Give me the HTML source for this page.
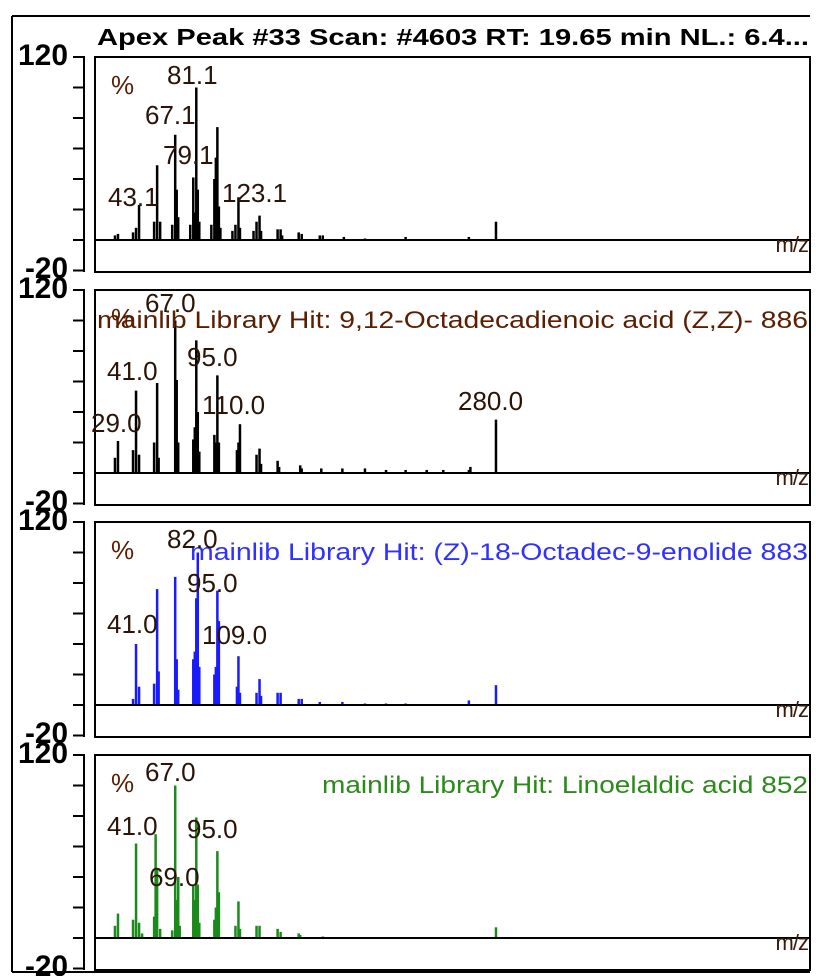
<!DOCTYPE html>
<html><head><meta charset="utf-8"><style>
html,body{margin:0;padding:0;background:#fff;}
svg{display:block;font-family:"Liberation Sans",Arial,sans-serif;}
</style></head><body>
<svg id="chart" width="816" height="976" viewBox="0 0 816 976" xmlns="http://www.w3.org/2000/svg">
<g>
<line x1="12" y1="16" x2="810" y2="16" stroke="#000" stroke-width="2"/>
<line x1="12" y1="16" x2="12" y2="972" stroke="#000" stroke-width="2"/>
<line x1="12" y1="972" x2="810" y2="972" stroke="#000" stroke-width="2"/>
</g>
<text x="97" y="45" font-size="23" font-weight="bold" textLength="712" lengthAdjust="spacingAndGlyphs">Apex Peak #33 Scan: #4603   RT: 19.65 min NL.: 6.4...</text>
<g id="panels"></g>
</svg>
<script>
// Panel vertical placement (layout, not data)
const panelTops = [57, 290, 522, 755];
const panelColors = ['#000000', '#000000', '#1a1aff', '#1a8a1a'];
// Y axis tick labels
const yTicks = [120, 100, 80, 60, 40, 20, 0, -20];
const yLabels = ['120', '-20'];

// Spectrum 1: sample (Apex Peak #33)
const mz1 = [27,29,39,41,43,53,55,57,65,67,68,69,77,79,80,81,82,83,91,93,94,95,96,97,105,107,109,110,119,121,123,124,135,137,138,149,151,163,165,179,193,220,262,280];
const int1 = [3,4,5,8,23,12,49,12,10,69,33,15,10,41,18,100,33,12,10,40,54,74,22,8,6,10,28,8,6,12,16,6,7,7,3,5,4,3,3,2,1,2,2,12];
// Spectrum 2: 9,12-Octadecadienoic acid
const mz2 = [27,29,39,41,43,53,55,56,67,68,69,79,80,81,82,83,93,94,95,96,108,109,110,121,123,124,135,136,150,151,164,178,193,207,220,234,245,262,263,280];
const int2 = [10,21,15,54,12,20,59,10,100,61,20,22,30,87,40,14,25,20,64,20,15,20,32,12,16,6,8,4,5,3,3,3,3,2,2,2,2,2,4,35];
// Spectrum 3: (Z)-18-Octadec-9-enolide
const mz3 = [39,41,43,53,55,56,67,68,69,79,80,81,82,83,93,94,95,96,108,109,110,121,123,124,135,137,149,151,163,178,193,207,220,262,280];
const int3 = [4,40,12,14,76,22,84,30,10,30,35,70,100,25,20,25,75,55,12,32,8,8,17,6,8,8,4,4,2,2,1,1,1,3,13];
// Spectrum 4: Linoelaldic acid
const mz4 = [27,29,39,41,43,45,53,54,55,57,65,67,68,69,70,79,80,81,82,83,93,94,95,96,107,109,110,121,123,135,137,149,150,165,280];
const int4 = [8,16,12,62,10,3,14,68,45,6,5,100,25,40,8,35,25,79,35,10,12,20,57,30,8,24,6,8,8,6,4,3,2,1,7];

const mzSets = [mz1, mz2, mz3, mz4];
const intSets = [int1, int2, int3, int4];

// Peak annotation labels per panel
const peakLabels1 = ['81.1','67.1','79.1','43.1','123.1'];
const peakLabels2 = ['67.0','41.0','95.0','110.0','29.0','280.0'];
const peakLabels3 = ['82.0','95.0','41.0','109.0'];
const peakLabels4 = ['67.0','41.0','95.0','69.0'];
const labelSets = [peakLabels1, peakLabels2, peakLabels3, peakLabels4];
const labelPos = [
 [[167,84],[145,124],[163,164],[108,206],[222,202]],
 [[145,312],[107,380],[187,366],[202,414],[91,432],[458,410]],
 [[167,548],[187,592],[107,633],[202,644]],
 [[145,781],[107,835],[187,838],[149,886]]
];
const hitTexts = ['', 'mainlib  Library Hit: 9,12-Octadecadienoic acid (Z,Z)- 886', 'mainlib  Library Hit: (Z)-18-Octadec-9-enolide 883', 'mainlib  Library Hit: Linoelaldic acid 852'];
const hitColors = ['', '#5a1e00', '#3030ff', '#2a8a1a'];
const hitX = [0, 97, 190, 322];

const NS = 'http://www.w3.org/2000/svg';
const root = document.getElementById('panels');
function el(tag, attrs, parent){ const e=document.createElementNS(NS,tag); for(const k in attrs) e.setAttribute(k,attrs[k]); parent.appendChild(e); return e; }
function xScale(mz){ return 74.3 + mz*1.506; }
function yScale(v, top){ return top + 183 - v*1.525; }

panelTops.forEach((top, p) => {
  const g = el('g', {}, root);
  
  
  const bottom = top + 215, base = top + 183;
  const ax = el('g', {}, g);
  
  
  el('line', {x1:84, y1:top, x2:84, y2:bottom, stroke:'#000', 'stroke-width':2}, ax);
  yTicks.forEach(t => {
    const y = yScale(t, top);
    const tk = el('line', {x1:73, y1:y, x2:85, y2:y, stroke:'#000', 'stroke-width':2}, ax);
    
    
  });
  const l1 = el('text', {x:18, y:top+8, 'font-size':30, 'font-weight':'bold', textLength:50, lengthAdjust:'spacingAndGlyphs'}, ax);
  l1.textContent = yLabels[0];
  
  
  const l2 = el('text', {x:25, y:bottom+6, 'font-size':30, 'font-weight':'bold', textLength:43, lengthAdjust:'spacingAndGlyphs'}, ax);
  l2.textContent = yLabels[1];
  
  
  const box = el('rect', {x:95, y:top, width:715, height:215, fill:'none', stroke:'#000', 'stroke-width':2}, g);
  
  
  const color = panelColors[p];
  mzSets[p].forEach((m, i) => {
    const x = xScale(m);
    const ln = el('line', {x1:x, y1:base, x2:x, y2:yScale(intSets[p][i], top), stroke:color, 'stroke-width':2.5}, g);
    
    
  });
  const bl = el('line', {x1:95, y1:base, x2:810, y2:base, stroke:'#000', 'stroke-width':2}, g);
  
  
  const mzT = el('text', {x:808, y:base+12, 'font-size':22, 'text-anchor':'end', fill:'#3a1a08', 'letter-spacing':'-1'}, g);
  mzT.textContent = 'm/z';
  
  
  const pc = el('text', {x:111, y:top+37, 'font-size':26, fill:'#5a1e00'}, g);
  pc.textContent = '%';
  
  
  if (hitTexts[p]) {
    const ht = el('text', {x:808, y:top+38, 'font-size':24, 'text-anchor':'end', fill:hitColors[p], textLength:808-hitX[p], lengthAdjust:'spacingAndGlyphs'}, g);
    ht.textContent = hitTexts[p];
    
    
  }
  labelSets[p].forEach((lab, i) => {
    const t = el('text', {x:labelPos[p][i][0], y:labelPos[p][i][1], 'font-size':26, fill:'#2a1408'}, g);
    t.textContent = lab;
    
    
  });
});
</script>
</body></html>
